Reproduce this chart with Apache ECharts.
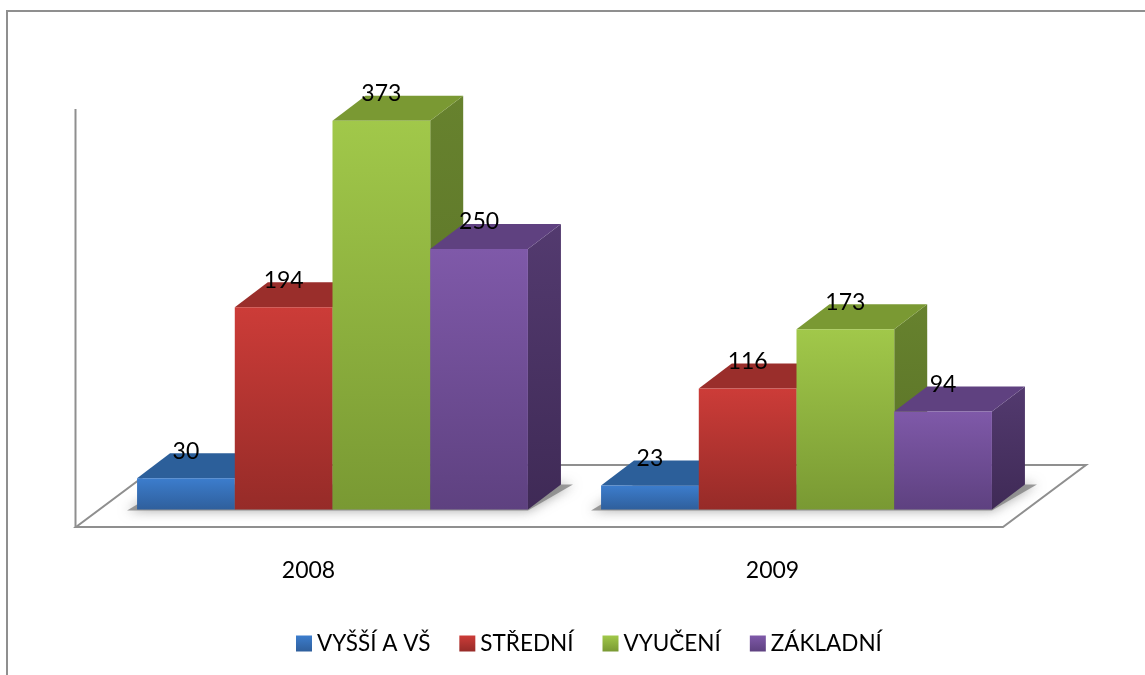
<!DOCTYPE html>
<html>
<head>
<meta charset="utf-8">
<title>2008 2009</title>
<script src="https://cdn.jsdelivr.net/npm/echarts@6/dist/echarts.min.js"></script>
<style>
html, body { margin: 0; padding: 0; background: #fff; }
#myChart { width: 1145px; height: 675px; }
</style>
</head>
<body>
<div id="myChart"></div>
<script>
var years = ['2008', '2009'];
var vyssi = [30, 23];
var stredni = [194, 116];
var vyuceni = [373, 173];
var zakladni = [250, 94];

var seriesNames = ['VYŠŠÍ A VŠ', 'STŘEDNÍ', 'VYUČENÍ', 'ZÁKLADNÍ'];
var seriesValues = [vyssi, stredni, vyuceni, zakladni];

// front top, front bottom, top face, side top, side bottom
var palette = [
	['#3c7dcd', '#2f5f9c', '#2c5f9a', '#2a5a92', '#234b7a'],
	['#cc3c38', '#962b28', '#9a2e2b', '#8a2a27', '#702220'],
	['#a1c84a', '#799933', '#7a9933', '#67822e', '#587026'],
	['#7f59a9', '#5e4180', '#5f4180', '#533a6f', '#3f2a56']
];

var depthX = 33;
var depthY = -25;
var barShare = 0.2106;
var fontName = 'Lato, "Open Sans", sans-serif';
var lineGrey = '#8f8f8f';

function grad(c1, c2) {
	return new echarts.graphic.LinearGradient(0, 0, 0, 1, [
		{ offset: 0, color: c1 },
		{ offset: 1, color: c2 }
	]);
}

function renderBar(index) {
	return function (params, api) {
		var cat = api.value(0);
		var val = api.value(1);
		var center = api.coord([cat, 0])[0];
		var band = api.size([1, 0])[0];
		var w = band * barShare;
		var x0 = center - 2 * w + index * w;
		var x1 = x0 + w;
		var base = api.coord([cat, 0])[1];
		var top = api.coord([cat, val])[1];
		var c = palette[index];
		return {
			type: 'group',
			children: [
				{
					type: 'polygon',
					shape: { points: [[x1, top], [x1 + depthX, top + depthY], [x1 + depthX, base + depthY], [x1, base]] },
					style: { fill: grad(c[3], c[4]) }
				},
				{
					type: 'polygon',
					shape: { points: [[x0, top], [x0 + depthX, top + depthY], [x1 + depthX, top + depthY], [x1, top]] },
					style: { fill: c[2] }
				},
				{
					type: 'rect',
					shape: { x: x0, y: top, width: w, height: base - top },
					style: { fill: grad(c[0], c[1]) }
				},
				{
					type: 'text',
					z2: 10,
					style: {
						x: x0 + w / 2,
						y: top - 27,
						text: String(val),
						fill: '#000',
						font: '23px ' + fontName,
						align: 'center',
						verticalAlign: 'middle'
					}
				}
			]
		};
	};
}

// soft shadow on the floor under each group of bars
function renderShadow(params, api) {
	var cat = api.value(0);
	var center = api.coord([cat, 0])[0];
	var base = api.coord([cat, 0])[1];
	var w = api.size([1, 0])[0] * barShare;
	var x0 = center - 2 * w;
	var x1 = center + 2 * w;
	return {
		type: 'polygon',
		shape: {
			points: [[x0 - 10, base + 1], [x1, base + 1], [x1 + depthX + 12, base + depthY], [x0 + depthX, base + depthY]]
		},
		style: { fill: 'rgba(130,130,130,0.8)', shadowBlur: 12, shadowColor: 'rgba(130,130,130,0.9)' }
	};
}

var series = [{
	type: 'custom',
	name: 'shadow',
	silent: true,
	renderItem: renderShadow,
	data: years.map(function (y, i) { return [i, 0]; })
}];

seriesNames.forEach(function (name, index) {
	series.push({
		type: 'custom',
		name: name,
		renderItem: renderBar(index),
		itemStyle: { color: grad(palette[index][0], palette[index][1]) },
		encode: { x: 0, y: 1 },
		data: seriesValues[index].map(function (v, i) { return [i, v]; })
	});
});

var option = {
	backgroundColor: '#fff',
	animation: false,
	grid: { left: 100.5, width: 928, top: 92.5, height: 417 },
	xAxis: {
		type: 'category',
		data: years,
		axisLine: { show: false },
		axisTick: { show: false },
		axisLabel: {
			color: '#000',
			fontFamily: fontName,
			fontSize: 23,
			margin: 50,
			padding: [0, 48, 0, 0]
		}
	},
	yAxis: {
		type: 'value',
		min: 0,
		max: 400,
		show: false,
		splitLine: { show: false }
	},
	legend: {
		data: seriesNames,
		left: 291,
		top: 627,
		icon: 'rect',
		itemWidth: 16,
		itemHeight: 16,
		itemGap: 29,
		textStyle: { color: '#000', fontFamily: fontName, fontSize: 22.5 }
	},
	graphic: [
		// outer frame, only top and left are visible
		{ type: 'polyline', shape: { points: [[7, 675], [7, 11], [1145, 11]] }, style: { stroke: lineGrey, lineWidth: 2, fill: null } },
		// floor
		{
			type: 'polygon',
			shape: { points: [[76, 527], [1003, 527], [1086, 465], [159, 465]] },
			style: { stroke: lineGrey, lineWidth: 2, fill: '#fff' }
		},
		// wall
		{ type: 'line', shape: { x1: 75.5, y1: 109, x2: 75.5, y2: 528 }, style: { stroke: lineGrey, lineWidth: 2 } }
	],
	series: series
};

var myChart = echarts.init(document.getElementById('myChart'));
myChart.setOption(option);
</script>
</body>
</html>
